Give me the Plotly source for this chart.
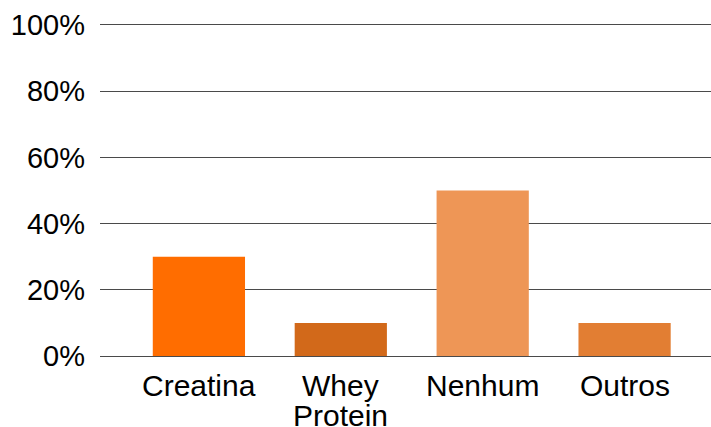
import plotly.graph_objects as go

categories = ["Creatina", "Whey Protein", "Nenhum", "Outros"]
label_lines = [["Creatina"], ["Whey", "Protein"], ["Nenhum"], ["Outros"]]
values = [30, 10, 50, 10]
colors = ["#FF6D00", "#D2691A", "#EE9656", "#E27E33"]
y_ticks = [0, 20, 40, 60, 80, 100]
y_tick_labels = ["0%", "20%", "40%", "60%", "80%", "100%"]

x_pos = list(range(len(categories)))

fig = go.Figure(
    go.Bar(
        x=x_pos,
        y=values,
        marker=dict(color=colors, line=dict(width=0)),
        width=0.65,
        hovertext=categories,
        hoverinfo="text+y",
    )
)

# Category labels, one annotation per text line, tight line spacing
for i, lines in enumerate(label_lines):
    for j, line in enumerate(lines):
        fig.add_annotation(
            x=i,
            y=0,
            xref="x",
            yref="y",
            text=line,
            showarrow=False,
            xanchor="center",
            yanchor="middle",
            yshift=-29 - 30 * j,
            font=dict(family="Liberation Sans, Arial, sans-serif", size=30, color="#000000"),
        )

fig.update_layout(
    width=711,
    height=427,
    margin=dict(l=100, r=0, t=18, b=71),
    paper_bgcolor="white",
    plot_bgcolor="white",
    font=dict(family="Liberation Sans, Arial, sans-serif", size=29, color="#000000"),
    showlegend=False,
)

fig.update_xaxes(
    range=[-0.697, 3.609],
    tickmode="array",
    tickvals=x_pos,
    showticklabels=False,
    showgrid=False,
    zeroline=False,
    showline=False,
    ticks="",
)

fig.update_yaxes(
    range=[0, 102.1],
    tickmode="array",
    tickvals=y_ticks,
    ticktext=y_tick_labels,
    showgrid=True,
    gridcolor="#4a4a4a",
    gridwidth=1.3,
    zeroline=True,
    zerolinecolor="#4a4a4a",
    zerolinewidth=1.3,
    showline=False,
    ticks="",
    ticklabelstandoff=14,
    tickfont=dict(size=29),
)

fig.write_html("out.html")
